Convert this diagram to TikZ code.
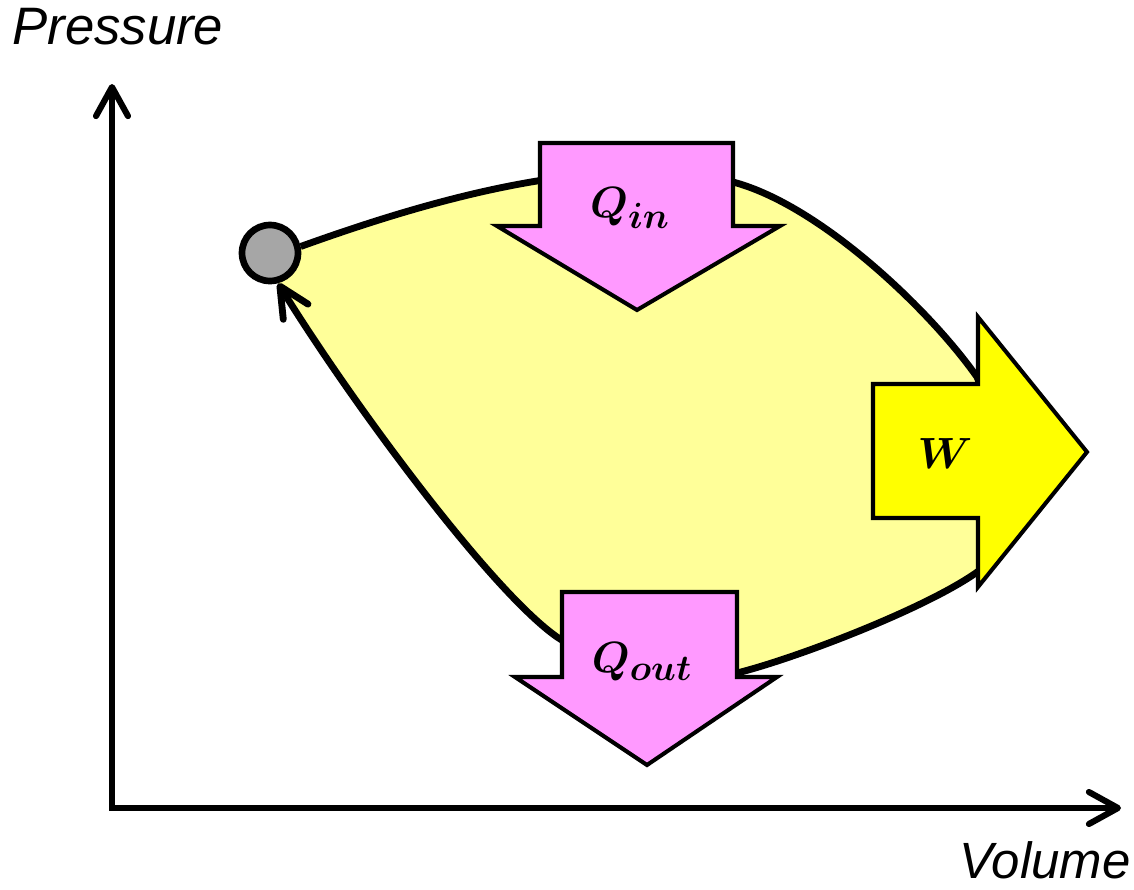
\documentclass[tikz,border=0pt]{standalone}
\usepackage{fontspec}
\setmainfont{Liberation Sans}
\usepackage{bm}
\usetikzlibrary{arrows.meta,backgrounds}
\definecolor{loopyellow}{HTML}{FFFF99}
\definecolor{wyellow}{HTML}{FFFF00}
\definecolor{qpink}{HTML}{FF99FF}
\definecolor{dotgray}{HTML}{A6A6A6}
\begin{document}
\begin{tikzpicture}[x=0.02cm,y=-0.02cm,
  thick line/.style={line width=3.5pt},
  axisarrow/.style={thick line, line join=miter,
    {Straight Barb[length=0.58cm,width=0.64cm,round]}-{Straight Barb[length=0.58cm,width=0.64cm,round]}},
  looparrow/.style={line width=3.9pt, -{Straight Barb[length=0.6cm,width=0.58cm,round]}},
  blockarrow/.style={line width=2.3pt, draw=black, line join=miter},
  lbl/.style={font=\fontsize{31}{34}\selectfont, inner sep=0pt},
  axlbl/.style={font=\fontsize{30}{34}\selectfont\itshape, inner sep=0pt},
  state/.style={circle, draw=black, line width=3.8pt, fill=dotgray, minimum size=1.12cm, inner sep=0pt}
]
\useasboundingbox (0,0) rectangle (1134,890);

% state point
\node[state] (c) at (270,253) {};

% axes
\coordinate (O) at (112,808);
\coordinate (ytip) at (112,84);
\coordinate (xtip) at (1121,808);

\begin{scope}[on background layer]
  \draw[axisarrow] (ytip) -- (O) -- (xtip);
  % cycle area
  \fill[loopyellow] (c.center) -- (c.12)
    .. controls (430,200) and (600,150) .. (733,182)
    .. controls (820,205) and (930,310) .. (977,377)
    -- (1015,470) -- (980,570)
    .. controls (930,607) and (797,658) .. (737,673)
    .. controls (680,688) and (600,665) .. (557,637)
    .. controls (490,590) and (350,400) .. (c.-75) -- cycle;
  \draw[looparrow] (c.12)
    .. controls (430,200) and (600,150) .. (733,182)
    .. controls (820,205) and (930,310) .. (977,377)
    -- (1015,470) -- (980,570)
    .. controls (930,607) and (797,658) .. (737,673)
    .. controls (680,688) and (600,665) .. (557,637)
    .. controls (490,590) and (350,400) .. (c.-75);
\end{scope}

% heat in
\draw[blockarrow, fill=qpink] (540,143) -- (733,143) -- (733,226) -- (780,226)
  -- (637,310) -- (497,226) -- (540,226) -- cycle;
% heat out
\draw[blockarrow, fill=qpink] (562,592) -- (737,592) -- (737,677) -- (777,677)
  -- (647,765) -- (515,677) -- (562,677) -- cycle;
% work
\draw[blockarrow, fill=wyellow] (873,384) -- (978,384) -- (978,317) -- (1087,452)
  -- (978,587) -- (978,518) -- (873,518) -- cycle;

\node[lbl] (qin) at (630,208) {$\bm{Q}_{\bm{in}}$};
\node[lbl] (qout) at (642,662) {$\bm{Q}_{\bm{out}}$};
\node[lbl] (w) at (945,453) {$\bm{W}$};

\node[axlbl, anchor=base west] (plabel) at (12,44) {Pressure};
\node[axlbl, anchor=base east, font=\fontsize{29}{34}\selectfont\itshape] (vlabel) at (1131,878) {Volume};
\end{tikzpicture}
\end{document}
